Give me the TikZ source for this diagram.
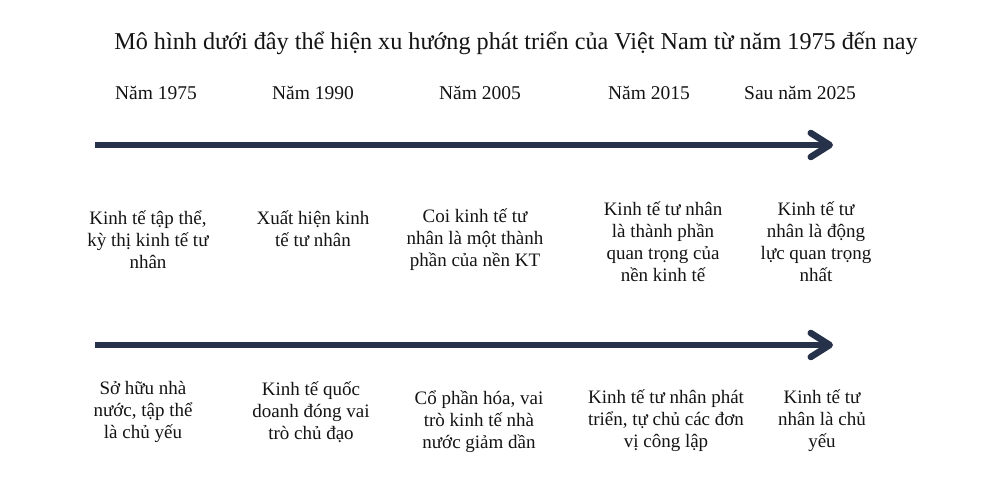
\documentclass[tikz,border=0pt]{standalone}
\usepackage{fontspec}
\setmainfont{Liberation Serif}
\usepackage{tikz}
\usetikzlibrary{arrows.meta, positioning}
\definecolor{navyline}{RGB}{38, 50, 74}
\definecolor{textdark}{RGB}{20, 20, 20}

\tikzset{
  yearlbl/.style={font=\fontsize{19.5}{22}\selectfont, text=textdark, inner sep=0pt},
  phase/.style={font=\fontsize{19}{22}\selectfont, text=textdark, align=center, inner sep=0pt},
  timeline/.style={line width=6.5pt, navyline, -{Straight Barb[length=19pt, width=24pt, round]}}
}

\begin{document}
\begin{tikzpicture}[x=1pt, y=-1pt]
  \useasboundingbox[fill=white] (0,0) rectangle (1000,489);

  % Title
  \node[font=\fontsize{24.2}{28}\selectfont, text=textdark, inner sep=0pt] (title) at (516, 43)
    {Mô hình dưới đây thể hiện xu hướng phát triển của Việt Nam từ năm 1975 đến nay};

  % Years
  \node[yearlbl] (y1) at (156, 93) {Năm 1975};
  \node[yearlbl] (y2) at (313, 93) {Năm 1990};
  \node[yearlbl] (y3) at (480, 93) {Năm 2005};
  \node[yearlbl] (y4) at (649, 93) {Năm 2015};
  \node[yearlbl] (y5) at (800, 93) {Sau năm 2025};

  % Upper timeline
  \coordinate (up0) at (95, 145);
  \coordinate (up1) at (833, 145);
  \draw[timeline] (up0) -- (up1);

  \node[phase] (t1) at (148, 240) {Kinh tế tập thể,\\kỳ thị kinh tế tư\\nhân};
  \node[phase] (t2) at (313, 229) {Xuất hiện kinh\\tế tư nhân};
  \node[phase] (t3) at (475, 240) {Coi kinh tế tư\\nhân là một thành\\phần của nền KT};
  \node[phase] (t4) at (663, 242) {Kinh tế tư nhân\\là thành phần\\quan trọng của\\nền kinh tế};
  \node[phase] (t5) at (816, 242) {Kinh tế tư\\nhân là động\\lực quan trọng\\nhất};

  % Lower timeline
  \coordinate (lo0) at (95, 345);
  \coordinate (lo1) at (833, 345);
  \draw[timeline] (lo0) -- (lo1);

  \node[phase] (b1) at (143, 412) {Sở hữu nhà\\nước, tập thể\\là chủ yếu};
  \node[phase] (b2) at (311, 412) {Kinh tế quốc\\doanh đóng vai\\trò chủ đạo};
  \node[phase] (b3) at (479, 422) {Cổ phần hóa, vai\\trò kinh tế nhà\\nước giảm dần};
  \node[phase] (b4) at (666, 421) {Kinh tế tư nhân phát\\triển, tự chủ các đơn\\vị công lập};
  \node[phase] (b5) at (822, 421) {Kinh tế tư\\nhân là chủ\\yếu};
\end{tikzpicture}
\end{document}
